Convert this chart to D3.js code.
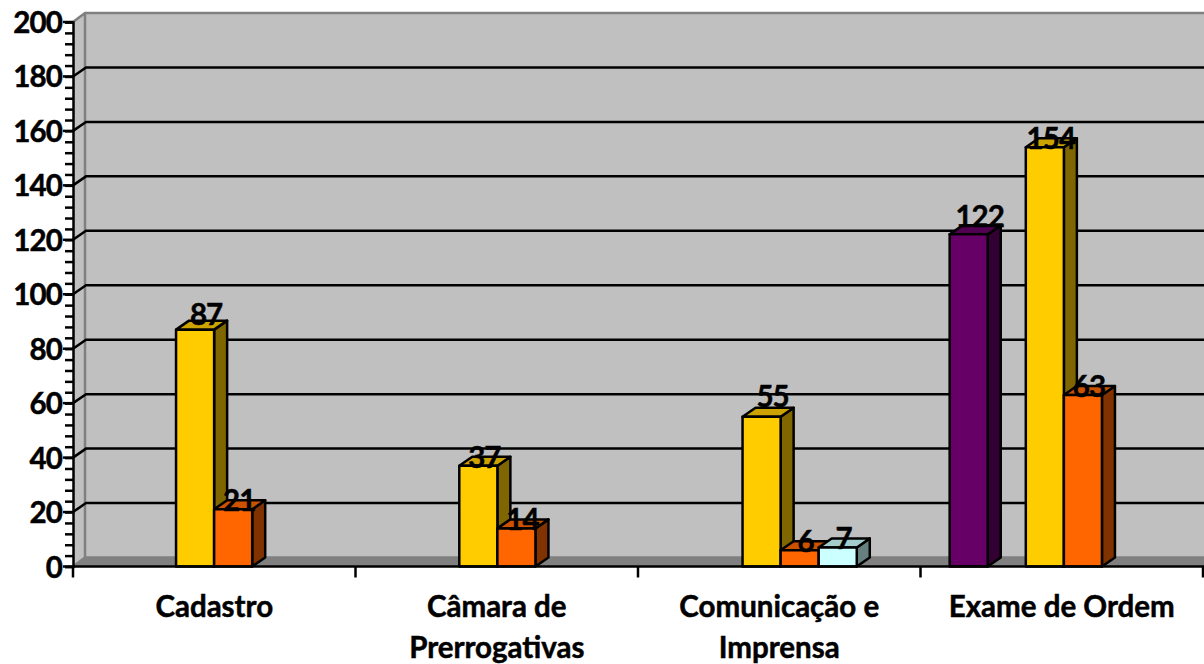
<!DOCTYPE html>
<html><head><meta charset="utf-8">
<script src="https://cdn.jsdelivr.net/npm/d3@7/dist/d3.min.js"></script>
<style>html,body{margin:0;padding:0;background:#fff;overflow:hidden}svg{display:block}text{font-family:Lato,"Open Sans",sans-serif;font-weight:700;fill:#000;stroke:#000;stroke-width:.5px}</style>
</head><body><div id="c"></div>
<script>
const categories = [["Cadastro"],["Câmara de","Prerrogativas"],["Comunicação e","Imprensa"],["Exame de Ordem"]];
const seriesA = [null,null,null,122];
const seriesB = [null,null,null,null];
const seriesC = [87,37,55,154];
const seriesD = [21,14,6,63];
const seriesE = [null,null,7,null];
const seriesF = [null,null,null,null];
const yTicks = d3.range(0,201,20);
const yMinorTicks = d3.range(0,201,4);
const seriesList = [seriesA,seriesB,seriesC,seriesD,seriesE,seriesF];
const seriesFront = ["#660066","#993366","#FFCC00","#FF6600","#CCFFFF","#99CCFF"];

const W=1204,H=664,x0=73,x1=1204,yB=566.5,yT=22,dx=13,dy=9;
const svg=d3.select("#c").append("svg").attr("width",W).attr("height",H);
const y=d3.scaleLinear().domain([0,200]).range([yB,yT]);
const x=d3.scaleBand().domain(d3.range(categories.length)).range([x0-0.5,x1+1.5]);
const xTick=d3.scaleLinear().domain([0,categories.length]).range([x0,x1-1]);
const inner=d3.scaleBand().domain(d3.range(seriesList.length)).range([0,x.bandwidth()]).paddingOuter(0.72).paddingInner(0);
const pts=a=>a.map(p=>p.join(",")).join(" ");

// walls and floor
svg.append("polygon").attr("points",pts([[x0+dx,yT-dy],[W,yT-dy],[W,yB-dy],[x0+dx,yB-dy]])).attr("fill","#C0C0C0");
svg.append("polygon").attr("points",pts([[x0,yT],[x0+dx,yT-dy],[x0+dx,yB-dy],[x0,yB]])).attr("fill","#C0C0C0");
svg.append("polygon").attr("points",pts([[x0,yB],[x0+dx,yB-dy],[W,yB-dy],[W,yB]])).attr("fill","#808080");
svg.append("path").attr("d",`M${x0},${yT}L${x0+dx-1},${yT-dy}L${W},${yT-dy}M${x0+dx-1},${yT-dy}V${yB-dy}L${x0},${yB}M${x0+dx-1},${yB-dy}H${W}`)
  .attr("fill","none").attr("stroke","#808080").attr("stroke-width",2.5);

// gridlines
svg.append("g").selectAll("path").data(yTicks.slice(1,-1)).join("path")
  .attr("d",d=>`M${x0},${y(d)}L${x0+dx},${y(d)-dy}H${W}`)
  .attr("fill","none").attr("stroke","#000").attr("stroke-width",2.5);

// axes
const yAxis=d3.axisLeft(y).tickValues(yMinorTicks).tickSize(8).tickFormat("");
const gy=svg.append("g").attr("transform",`translate(${x0},0)`).call(yAxis);
gy.selectAll("line").attr("stroke","#000").attr("stroke-width",2.5);
gy.select(".domain").attr("stroke","#000").attr("stroke-width",2.5);
svg.append("g").selectAll("text").data(yTicks).join("text")
  .attr("x",62).attr("y",d=>y(d)+11).attr("text-anchor","end").attr("font-size",29.5).attr("letter-spacing",-0.9).text(d=>d);
svg.append("g").selectAll("line").data(yTicks).join("line")
  .attr("x1",x0-10).attr("x2",x0).attr("y1",d=>y(d)).attr("y2",d=>y(d)).attr("stroke","#000").attr("stroke-width",2.5);

// bars
const bars=[];
categories.forEach((c,i)=>seriesList.forEach((s,j)=>{if(s[i]!=null)bars.push({i,j,v:s[i]});}));
const gb=svg.append("g").attr("stroke","#000").attr("stroke-width",2.5).attr("stroke-linejoin","round");
bars.forEach(b=>{
  const l=x(b.i)+inner(b.j),r=l+inner.bandwidth(),t=y(b.v),base=y(0);
  const c=d3.color(seriesFront[b.j]);
  const side=d3.rgb(c.r*0.5,c.g*0.5,c.b*0.5), top=d3.rgb(c.r*0.8,c.g*0.8,c.b*0.8);
  const g=gb.append("g");
  g.append("polygon").attr("points",pts([[r,t],[r+dx,t-dy],[r+dx,base-dy],[r,base]])).attr("fill",side);
  g.append("polygon").attr("points",pts([[l,t],[l+dx,t-dy],[r+dx,t-dy],[r,t]])).attr("fill",top);
  g.append("rect").attr("x",l).attr("y",t).attr("width",r-l).attr("height",base-t).attr("fill",c);
});
// value labels: most sit over the bar's top face, three are lifted clear of it
const lifted={87:[5,-7],55:[5,-12],122:[5,-9]};
svg.append("g").selectAll("text").data(bars).join("text")
  .attr("x",d=>x(d.i)+inner(d.j)+inner.bandwidth()/2+6+(lifted[d.v]?lifted[d.v][0]:0))
  .attr("y",d=>y(d.v)+(lifted[d.v]?lifted[d.v][1]+2:2)).attr("text-anchor","middle").attr("font-size",29.5).attr("letter-spacing",-0.9).text(d=>d.v);

// x axis
const xa=svg.append("g").attr("stroke","#000").attr("stroke-width",2.5);
xa.append("line").attr("x1",x0).attr("x2",W).attr("y1",yB).attr("y2",yB);
xa.selectAll("line.t").data(d3.range(categories.length+1)).join("line").attr("class","t")
  .attr("x1",d=>xTick(d)).attr("x2",d=>xTick(d)).attr("y1",yB).attr("y2",yB+11);
svg.append("g").selectAll("text").data(categories).join("text")
  .attr("text-anchor","middle").attr("font-size",29.5)
  .attr("transform",(d,i)=>`translate(${xTick(i)+xTick(.5)-x0},617)`)
  .each(function(d){d3.select(this).selectAll("tspan").data(d).join("tspan").attr("x",0).attr("y",(t,k)=>k*41).text(t=>t);});
</script></body></html>
